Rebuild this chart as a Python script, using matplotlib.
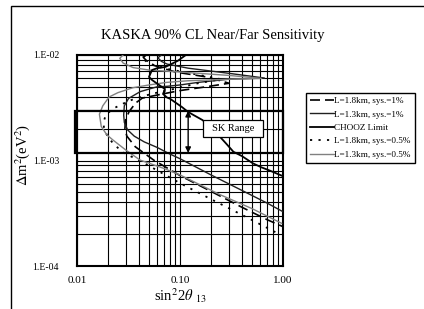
import matplotlib
matplotlib.use("Agg")
import matplotlib.pyplot as plt
from matplotlib.patches import Rectangle
from matplotlib.ticker import FixedLocator, FixedFormatter, LogLocator, NullFormatter

plt.rcParams['font.family'] = ['Liberation Serif', 'DejaVu Serif']
plt.rcParams['mathtext.fontset'] = 'stix'

# ---------------- data ----------------
title = "KASKA 90% CL Near/Far Sensitivity"
xtick_vals = [0.01, 0.1, 1.0]
xtick_labels = ["0.01", "0.10", "1.00"]
ytick_vals = [1e-4, 1e-3, 1e-2]
ytick_labels = ["1.E-04", "1.E-03", "1.E-02"]

# CHOOZ limit
chooz_x = [0.114, 0.095, 0.072, 0.060, 0.0535, 0.050, 0.0535, 0.0625, 0.0715, 0.0684, 0.0749, 0.080,
           0.092, 0.105, 0.119, 0.135, 0.15, 0.165, 0.181, 0.21, 0.244, 0.28, 0.33, 0.40, 0.51, 0.62, 0.75, 1.0]
chooz_y = [1.0e-2, 8.8e-3, 7.7e-3, 7.5e-3, 7.2e-3, 6.2e-3, 5.8e-3, 5.2e-3, 4.76e-3, 4.27e-3, 3.95e-3, 3.85e-3,
           3.5e-3, 3.2e-3, 2.9e-3, 2.7e-3, 2.55e-3, 2.42e-3, 2.25e-3, 1.95e-3, 1.68e-3, 1.45e-3, 1.21e-3,
           1.1e-3, 9.4e-4, 8.6e-4, 8.0e-4, 7.1e-4]

# L=1.3km, sys.=1%
l13_1_x = [0.066, 0.061, 0.066, 0.075, 0.12, 0.30, 0.66, 0.30, 0.15, 0.10, 0.075, 0.06, 0.0412, 0.0317,
           0.0288, 0.0284, 0.0288, 0.031, 0.036, 0.045, 0.060, 0.080, 0.10, 0.20, 0.40, 0.70, 1.0]
l13_1_y = [1.0e-2, 9.4e-3, 8.7e-3, 8.2e-3, 7.5e-3, 6.7e-3, 6.05e-3, 5.9e-3, 5.5e-3, 5.2e-3, 5.05e-3,
           5.0e-3, 4.5e-3, 3.88e-3, 3.3e-3, 2.7e-3, 2.3e-3, 1.95e-3, 1.7e-3, 1.5e-3, 1.33e-3, 1.15e-3,
           1.04e-3, 7.3e-4, 5.2e-4, 3.95e-4, 3.27e-4]

# L=1.8km, sys.=1%
l18_1_x = [0.047, 0.044, 0.047, 0.055, 0.09, 0.18, 0.30, 0.18, 0.10, 0.07, 0.055, 0.043, 0.037, 0.032,
           0.0295, 0.0292, 0.0305, 0.0368, 0.0555, 0.10, 0.20, 0.40, 0.70, 1.0]
l18_1_y = [1.0e-2, 9.5e-3, 8.9e-3, 8.0e-3, 6.9e-3, 6.2e-3, 5.4e-3, 5.0e-3, 4.6e-3, 4.3e-3, 4.1e-3,
           3.9e-3, 3.5e-3, 2.9e-3, 2.4e-3, 2.0e-3, 1.7e-3, 1.35e-3, 1.01e-3, 7.2e-4, 5.1e-4, 3.6e-4,
           2.75e-4, 2.36e-4]

# L=1.8km, sys.=0.5%
l18_05_x = [0.045, 0.042, 0.045, 0.05, 0.08, 0.15, 0.25, 0.15, 0.09, 0.06, 0.045, 0.035, 0.0284, 0.0224,
            0.0190, 0.0181, 0.0183, 0.0195, 0.0217, 0.0272, 0.0427, 0.10, 0.20, 0.40, 0.70, 0.95]
l18_05_y = [1.0e-2, 9.6e-3, 9.0e-3, 8.3e-3, 7.3e-3, 6.5e-3, 5.9e-3, 5.4e-3, 4.8e-3, 4.4e-3, 4.1e-3,
            3.8e-3, 3.48e-3, 3.1e-3, 2.7e-3, 2.3e-3, 2.0e-3, 1.75e-3, 1.51e-3, 1.21e-3, 9.7e-4, 6.1e-4,
            4.3e-4, 3.05e-4, 2.3e-4, 1.97e-4]

# L=1.3km, sys.=0.5%
l13_05_x = [0.028, 0.026, 0.028, 0.035, 0.05, 0.10, 0.30, 0.62, 0.30, 0.12, 0.074, 0.05, 0.035, 0.025,
            0.0205, 0.0178, 0.0165, 0.0172, 0.0195, 0.0224, 0.030, 0.0409, 0.07, 0.10, 0.244, 0.50, 0.97]
l13_05_y = [1.0e-2, 9.3e-3, 8.4e-3, 7.6e-3, 7.2e-3, 6.9e-3, 6.4e-3, 6.0e-3, 5.9e-3, 5.7e-3, 5.5e-3,
            5.2e-3, 4.9e-3, 4.4e-3, 4.0e-3, 3.3e-3, 2.75e-3, 2.1e-3, 1.75e-3, 1.56e-3, 1.25e-3, 1.01e-3,
            8.4e-4, 7.3e-4, 4.75e-4, 3.5e-4, 2.54e-4]

sk_range = [1.18e-3, 2.97e-3]          # SK allowed band in dm^2
sk_x_extent = [0.0096, 1.0]
arrow_x = 0.12
arrow_y = [2.95e-3, 1.18e-3]
sk_label = "SK Range"

legend_labels = ["L=1.8km, sys.=1%", "L=1.3km, sys.=1%", "CHOOZ Limit",
                 "L=1.8km, sys.=0.5%", "L=1.3km, sys.=0.5%"]

# ---------------- figure ----------------
fig = plt.figure(figsize=(4.24, 3.09), dpi=100)
ax = fig.add_axes([77 / 424, 1 - 266 / 309, 206 / 424, 211 / 309])
ax.set_xscale('log')
ax.set_yscale('log')
ax.set_xlim(0.01, 1.0)
ax.set_ylim(1e-4, 1e-2)

gray = '#808080'
l_dash, = ax.plot(l18_1_x, l18_1_y, color='black', lw=1.2, dashes=(6, 3), zorder=4)
l_13, = ax.plot(l13_1_x, l13_1_y, color='#202020', lw=1.0, zorder=4)
l_ch, = ax.plot(chooz_x, chooz_y, color='black', lw=1.3, zorder=5)
l_dot, = ax.plot(l18_05_x, l18_05_y, color='black', lw=1.3, dashes=(1.2, 3.5), zorder=4)
l_gr, = ax.plot(l13_05_x, l13_05_y, color=gray, lw=1.0, zorder=4)

# grid
ax.xaxis.set_major_locator(FixedLocator(xtick_vals))
ax.xaxis.set_major_formatter(FixedFormatter(xtick_labels))
ax.yaxis.set_major_locator(FixedLocator(ytick_vals))
ax.yaxis.set_major_formatter(FixedFormatter(ytick_labels))
ax.xaxis.set_minor_locator(LogLocator(base=10, subs=range(2, 10)))
ax.yaxis.set_minor_locator(LogLocator(base=10, subs=range(2, 10)))
ax.xaxis.set_minor_formatter(NullFormatter())
ax.yaxis.set_minor_formatter(NullFormatter())
ax.grid(True, which='both', color='black', lw=0.8)
ax.set_axisbelow(True)
ax.tick_params(which='both', length=0)
ax.tick_params(axis='x', pad=7, labelsize=8)
ax.tick_params(axis='y', pad=13, labelsize=7)
for s in ax.spines.values():
    s.set_linewidth(1.5)

# SK range band
ax.add_patch(Rectangle((sk_x_extent[0], sk_range[0]), sk_x_extent[1] - sk_x_extent[0],
                       sk_range[1] - sk_range[0], fill=False, ec='black', lw=1.6,
                       clip_on=False, zorder=6))
ax.annotate('', xy=(arrow_x, arrow_y[1]), xytext=(arrow_x, arrow_y[0]),
            arrowprops=dict(arrowstyle='<|-|>', color='black', lw=1.0, mutation_scale=8,
                            shrinkA=0, shrinkB=0), zorder=7)
ax.add_patch(Rectangle((0.612, 0.611), 0.291, 0.081, transform=ax.transAxes,
                       fc='white', ec='black', lw=0.9, zorder=8))
ax.text(0.757, 0.652, sk_label, transform=ax.transAxes, ha='center', va='center',
        fontsize=7.5, zorder=9)

# titles / labels
fig.text(0.501, 1 - 35 / 309, title, ha='center', va='center', fontsize=10.5)
fig.text(23 / 424, 1 - 155 / 309, r'$\Delta$m$^{2}$(eV$^{2}$)', rotation=90,
         ha='center', va='center', fontsize=10.5)
fig.text(0.425, 1 - 296 / 309, r'sin$^{2}$2$\mathit{\theta}$ $_{13}$', ha='center', va='center',
         fontsize=10.5)

# legend
handles = [l_dash, l_13, l_ch, l_dot, l_gr]
leg = fig.legend(handles, legend_labels, loc='upper left',
                 bbox_to_anchor=(306 / 424, 1 - 93 / 309), fontsize=6.6,
                 frameon=True, fancybox=False, edgecolor='black', framealpha=1,
                 handlelength=2.6, handletextpad=0.1, borderpad=0.4, labelspacing=0.55,
                 borderaxespad=0)
leg.get_frame().set_linewidth(1.0)

# outer frame of the figure
fig.patches.append(Rectangle((11 / 424, -0.1), 1.2, 1.1 - 6 / 309, transform=fig.transFigure,
                             fill=False, ec='black', lw=1.0))

fig.savefig('out.png', dpi=100)
